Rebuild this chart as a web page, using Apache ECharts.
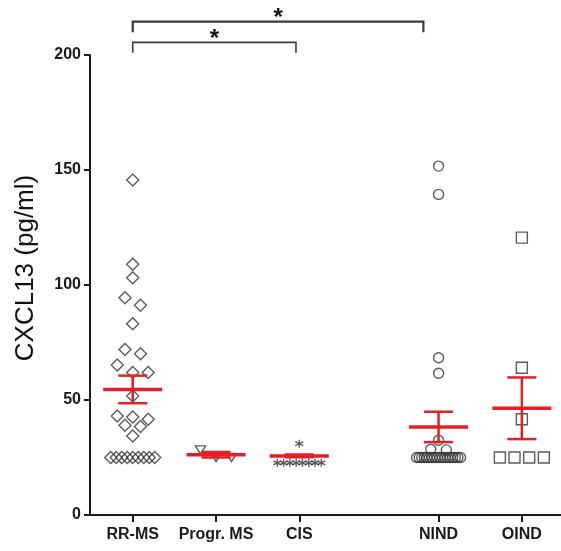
<!DOCTYPE html>
<html>
<head>
<meta charset="utf-8">
<script src="https://cdn.jsdelivr.net/npm/echarts@6/dist/echarts.min.js"></script>
<style>
html,body{margin:0;padding:0;background:#fff;}
#chart{width:561px;height:551px;}
</style>
</head>
<body>
<div id="chart"></div>
<script>
// ---- data ----
const groups = ['RR-MS', 'Progr. MS', 'CIS', 'NIND', 'OIND'];
const groupPositions = [1, 2, 3, 4.672, 5.672];
const rrmsValues = [145.7, 109, 103.2, 94.5, 91.2, 83.2, 72, 70.1, 65.2, 62, 62, 51.7, 43, 42.6, 41.6, 39, 38.5, 34.3,
  25, 25, 25, 25, 25, 25, 25, 25, 25];
const progrValues = [28.3, 25, 25];
const cisValues = [31, 22.7, 22.7, 22.7, 22.7, 22.7, 22.7, 22.7, 22.7];
const nindValues = [151.7, 139.4, 68.4, 61.6, 32.5, 28.6, 28.3,
  25, 25, 25, 25, 25, 25, 25, 25, 25, 25, 25, 25, 25, 25, 25, 25, 25, 25];
const oindValues = [120.6, 64, 41.6, 25, 25, 25, 25];
const groupMeans = [54.6, 26.2, 25.7, 38.3, 46.4];
const groupSEMs = [6.0, 1.2, 0.6, 6.6, 13.4];
const yTicks = [0, 50, 100, 150, 200];
// significance brackets: [xStart, xEnd, yLine, yTickEnd, label]
const brackets = [
  [1, 2.96, 205.5, 201, '*'],
  [1, 4.49, 214.5, 209.9, '*']
];

// ---- layout ----
const GRID_LEFT = 90, GRID_TOP = 55, GRID_BOTTOM = 36, CHART_W = 561;
const X_MIN = 0.487, X_MAX = 6.142;
const pxPerUnitX = (CHART_W - GRID_LEFT) / (X_MAX - X_MIN);
const RED = '#e41f26';
const INK = '#333';

// beeswarm-like horizontal spreading of points with similar values (GraphPad style)
function spread(values, pos, rowThreshold, spacingPx, maxHalfPx) {
  const sorted = values.slice().sort((a, b) => b - a);
  const rows = [];
  let cur = null;
  sorted.forEach(v => {
    if (cur && cur.start - v <= rowThreshold) { cur.items.push(v); }
    else { cur = { start: v, items: [v] }; rows.push(cur); }
  });
  const out = [];
  rows.forEach(r => {
    const n = r.items.length;
    const sp = n > 1 ? Math.min(spacingPx, 2 * maxHalfPx / (n - 1)) : 0;
    r.items.forEach((v, i) => {
      const off = (i - (n - 1) / 2) * sp;
      out.push([pos + off / pxPerUnitX, v]);
    });
  });
  return out;
}

const seriesValues = [rrmsValues, progrValues, cisValues, nindValues, oindValues];
const symbols = ['diamond', 'triangle', 'path://M0,-10L0,10M-8.66,-5L8.66,5M-8.66,5L8.66,-5', 'circle', 'rect'];
const symbolSizes = [12, [10, 8], 8, 10, 11];
const symbolRotates = [0, 180, 0, 0, 0];

const scatterSeries = seriesValues.map((vals, gi) => ({
  type: 'scatter',
  name: groups[gi],
  data: spread(vals, groupPositions[gi], 3.4, 15.5, 22),
  symbol: symbols[gi],
  symbolSize: symbolSizes[gi],
  symbolRotate: symbolRotates[gi],
  itemStyle: { color: 'rgba(0,0,0,0)', borderColor: INK, borderWidth: 1.4 },
  z: 2,
  silent: true
}));

const errorSeries = {
  type: 'custom',
  z: 5,
  silent: true,
  data: groupPositions.map((p, i) => [p, groupMeans[i], groupSEMs[i]]),
  renderItem: function (params, api) {
    const x = api.value(0), m = api.value(1), s = api.value(2);
    const c = api.coord([x, m]);
    const t = api.coord([x, m + s]);
    const b = api.coord([x, m - s]);
    return {
      type: 'group',
      children: [
        { type: 'line', shape: { x1: c[0], y1: t[1], x2: c[0], y2: b[1] }, style: { stroke: RED, lineWidth: 2.5 } },
        { type: 'line', shape: { x1: c[0] - 14.5, y1: t[1], x2: c[0] + 14.5, y2: t[1] }, style: { stroke: RED, lineWidth: 2.5 } },
        { type: 'line', shape: { x1: c[0] - 14.5, y1: b[1], x2: c[0] + 14.5, y2: b[1] }, style: { stroke: RED, lineWidth: 2.5 } },
        { type: 'line', shape: { x1: c[0] - 29.5, y1: c[1], x2: c[0] + 29.5, y2: c[1] }, style: { stroke: RED, lineWidth: 3.5 } }
      ]
    };
  }
};

const bracketSeries = {
  type: 'custom',
  clip: false,
  silent: true,
  z: 6,
  data: brackets,
  renderItem: function (params, api) {
    const x1 = api.value(0), x2 = api.value(1), yl = api.value(2), yt = api.value(3);
    const a = api.coord([x1, yt]), b = api.coord([x1, yl]), c = api.coord([x2, yl]), d = api.coord([x2, yt]);
    const lw = params.dataIndex === 1 ? 2.2 : 1.6;
    return {
      type: 'group',
      children: [
        { type: 'polyline', shape: { points: [a, b, c, d] }, style: { stroke: '#3a3a3a', lineWidth: lw, fill: null } },
        { type: 'text', x: (b[0] + c[0]) / 2, y: b[1] - 3,
          style: { text: brackets[params.dataIndex][4], font: 'bold 24px "Liberation Sans", Arial, sans-serif',
                   fill: '#111', align: 'center', verticalAlign: 'middle' } }
      ]
    };
  }
};

const chart = echarts.init(document.getElementById('chart'), null, { renderer: 'canvas' });
chart.setOption({
  animation: false,
  backgroundColor: '#fff',
  grid: { left: GRID_LEFT, right: 0, top: GRID_TOP, bottom: GRID_BOTTOM, containLabel: false },
  xAxis: {
    type: 'value',
    min: X_MIN,
    max: X_MAX,
    splitLine: { show: false },
    axisLine: { show: true, onZero: false, lineStyle: { color: '#1a1a1a', width: 2 } },
    axisTick: { show: true, customValues: groupPositions, length: 7, lineStyle: { color: '#1a1a1a', width: 2 } },
    axisLabel: {
      show: true,
      customValues: groupPositions,
      margin: 12,
      color: '#1a1a1a',
      fontFamily: '"Liberation Sans", Arial, sans-serif',
      fontWeight: 'bold',
      fontSize: 16,
      formatter: function (v) {
        for (let i = 0; i < groupPositions.length; i++) {
          if (Math.abs(groupPositions[i] - v) < 1e-6) return groups[i];
        }
        return '';
      }
    }
  },
  yAxis: {
    type: 'value',
    min: 0,
    max: 200,
    interval: 50,
    splitLine: { show: false },
    axisLine: { show: true, lineStyle: { color: '#1a1a1a', width: 2 } },
    axisTick: { show: true, length: 6, lineStyle: { color: '#1a1a1a', width: 2 } },
    axisLabel: {
      margin: 9,
      color: '#1a1a1a',
      fontFamily: '"Liberation Sans", Arial, sans-serif',
      fontWeight: 'bold',
      fontSize: 16,
      formatter: function (v) { return yTicks.indexOf(v) >= 0 ? String(v) : ''; }
    }
  },
  graphic: [{
    type: 'text',
    x: 26, y: 268,
    rotation: Math.PI / 2,
    style: { text: 'CXCL13 (pg/ml)', font: '26px "Liberation Sans", Arial, sans-serif', fill: '#111',
             align: 'center', verticalAlign: 'middle' }
  }],
  series: scatterSeries.concat([errorSeries, bracketSeries])
});
</script>
</body>
</html>
